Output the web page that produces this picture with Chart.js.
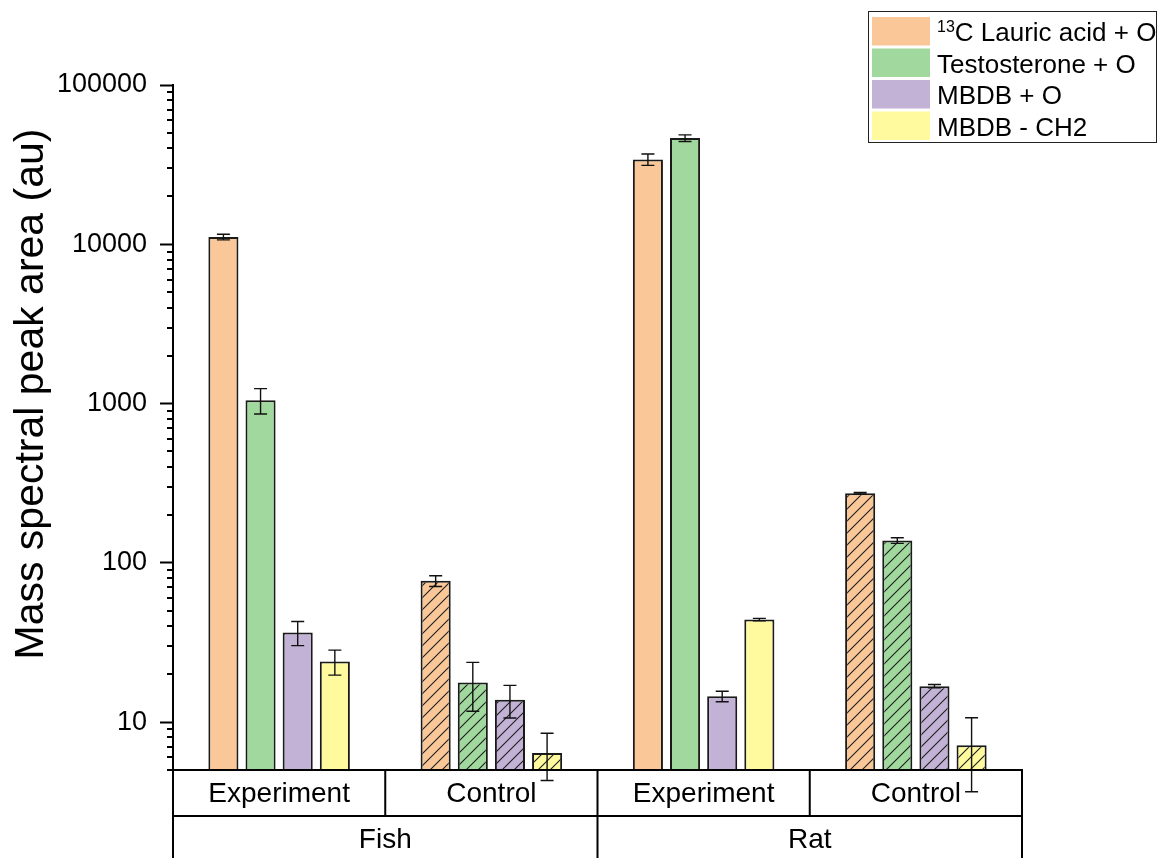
<!DOCTYPE html>
<html>
<head>
<meta charset="utf-8">
<script src="https://cdn.jsdelivr.net/npm/chart.js@4/dist/chart.umd.min.js"></script>
<style>
  html, body { margin: 0; padding: 0; background: #ffffff; }
  #wrap { width: 1159px; height: 858px; }
</style>
</head>
<body>
<div id="wrap"><canvas id="c" width="1159" height="858"></canvas></div>
<script>
// Group labels (first row under the axis) and species (second row)
const groups = ['Experiment', 'Control', 'Experiment', 'Control'];
const species = ['Fish', 'Rat'];
const hatched = [false, true, false, true];

// Series names; the isotope mass is drawn as a superscript in the legend
const seriesSup = ['13', '', '', ''];
const seriesNames = ['C Lauric acid + O', 'Testosterone + O', 'MBDB + O', 'MBDB - CH2'];
const seriesColors = ['#FAC898', '#A0D89E', '#C2B2D6', '#FFFA9E'];

// Peak areas and their error values, one entry per group
const lauricAcid    = [11100, 77, 34100, 273];
const lauricAcidErr = [450, 6, 2800, 3];
const testosterone    = [1050, 17.7, 46400, 138];
const testosteroneErr = [190, 6, 2200, 5.5];
const mbdbO    = [36.5, 13.8, 14.5, 16.8];
const mbdbOErr = [6.3, 3.2, 1.1, 0.4];
const mbdbCH2    = [24.0, 6.4, 44, 7.15];
const mbdbCH2Err = [4.3, 2.1, 0.8, 3.5];

const yTicks = [10, 100, 1000, 10000, 100000];
const yMin = 5, yMax = 100000;
const yTitle = 'Mass spectral peak area (au)';

const FONT = "'Liberation Sans', Arial, sans-serif";

function hatch(color) {
  const s = 12;
  const c = document.createElement('canvas');
  c.width = s; c.height = s;
  const g = c.getContext('2d');
  g.fillStyle = color;
  g.fillRect(0, 0, s, s);
  g.strokeStyle = '#1e1e1e';
  g.lineWidth = 1.1;
  g.beginPath();
  g.moveTo(-1, s + 1); g.lineTo(s + 1, -1);
  g.moveTo(-1, 1); g.lineTo(1, -1);
  g.moveTo(s - 1, s + 1); g.lineTo(s + 1, s - 1);
  g.stroke();
  return g.createPattern(c, 'repeat');
}

const values = [lauricAcid, testosterone, mbdbO, mbdbCH2];
const errors = [lauricAcidErr, testosteroneErr, mbdbOErr, mbdbCH2Err];

const datasets = values.map((vals, i) => {
  const pat = hatch(seriesColors[i]);
  return {
    label: seriesSup[i] + seriesNames[i],
    data: vals,
    errors: errors[i],
    backgroundColor: hatched.map(h => h ? pat : seriesColors[i]),
    borderColor: '#1a1a1a',
    borderWidth: 2,
    categoryPercentage: 0.7,
    barPercentage: 0.81
  };
});

// Error bars, minor y ticks, y title, two-row category table and legend
const decor = {
  id: 'decor',
  afterDatasetsDraw(chart) {
    const ctx = chart.ctx;
    const y = chart.scales.y;
    ctx.save();
    ctx.strokeStyle = '#111';
    ctx.lineWidth = 1.4;
    chart.data.datasets.forEach((ds, di) => {
      const meta = chart.getDatasetMeta(di);
      meta.data.forEach((bar, k) => {
        const v = ds.data[k], e = ds.errors[k];
        const yt = y.getPixelForValue(v + e);
        const yb = y.getPixelForValue(Math.max(v - e, 0.01));
        const x = bar.x, cap = 6.5;
        ctx.beginPath();
        ctx.moveTo(x, yt); ctx.lineTo(x, yb);
        ctx.moveTo(x - cap, yt); ctx.lineTo(x + cap, yt);
        ctx.moveTo(x - cap, yb); ctx.lineTo(x + cap, yb);
        ctx.stroke();
      });
    });
    ctx.restore();
  },
  afterDraw(chart) {
    const ctx = chart.ctx;
    const a = chart.chartArea;
    const y = chart.scales.y;
    ctx.save();
    // minor ticks
    ctx.strokeStyle = '#000';
    ctx.lineWidth = 2;
    ctx.beginPath();
    for (let d = 1; d <= 10000; d *= 10) {
      for (let m = 2; m <= 9; m++) {
        const v = m * d;
        if (v < yMin || v > yMax) continue;
        const py = Math.round(y.getPixelForValue(v));
        ctx.moveTo(a.left - 6, py); ctx.lineTo(a.left, py);
      }
    }
    ctx.stroke();

    // y title
    ctx.save();
    ctx.translate(43, 394);
    ctx.rotate(-Math.PI / 2);
    ctx.fillStyle = '#000';
    ctx.font = '41px ' + FONT;
    ctx.textAlign = 'center';
    ctx.textBaseline = 'alphabetic';
    ctx.fillText(yTitle, 0, 0);
    ctx.restore();

    // category table
    const n = groups.length;
    const w = (a.right - a.left) / n;
    const row1 = a.bottom + 46;
    const bottom = chart.height + 2;
    ctx.strokeStyle = '#000';
    ctx.lineWidth = 2;
    ctx.beginPath();
    ctx.moveTo(a.left - 1, a.bottom); ctx.lineTo(a.right + 1, a.bottom);
    ctx.moveTo(a.left, row1); ctx.lineTo(a.right, row1);
    for (let i = 0; i <= n; i++) {
      const x = a.left + i * w;
      if (i % 2 === 0) { ctx.moveTo(x, a.bottom); ctx.lineTo(x, bottom); }
      else { ctx.moveTo(x, a.bottom); ctx.lineTo(x, row1); }
    }
    ctx.stroke();
    ctx.fillStyle = '#000';
    ctx.font = '28px ' + FONT;
    ctx.textAlign = 'center';
    ctx.textBaseline = 'middle';
    groups.forEach((g, i) => ctx.fillText(g, a.left + (i + 0.5) * w, a.bottom + 24));
    species.forEach((s, i) => ctx.fillText(s, a.left + (2 * i + 1) * w, row1 + 24));

    // legend
    const lx = 868, ly = 11, lw = 289, lh = 132;
    ctx.fillStyle = '#fff';
    ctx.fillRect(lx, ly, lw, lh);
    ctx.strokeStyle = '#222';
    ctx.lineWidth = 1;
    ctx.strokeRect(lx + 0.5, ly + 0.5, lw - 1, lh - 1);
    ctx.textAlign = 'left';
    ctx.textBaseline = 'alphabetic';
    seriesNames.forEach((name, i) => {
      const top = 17 + i * 31.5;
      ctx.fillStyle = seriesColors[i];
      ctx.fillRect(872, top, 58, 28.5);
      ctx.fillStyle = '#000';
      let x = 937;
      const base = top + 24;
      if (seriesSup[i]) {
        ctx.font = '16px ' + FONT;
        ctx.fillText(seriesSup[i], x, base - 9);
        x += ctx.measureText(seriesSup[i]).width;
      }
      ctx.font = '26px ' + FONT;
      ctx.fillText(name, x, base);
    });
    ctx.restore();
  }
};

new Chart(document.getElementById('c'), {
  type: 'bar',
  data: { labels: groups, datasets },
  options: {
    responsive: false,
    animation: false,
    layout: { padding: { top: 85, right: 137, bottom: 88, left: 0 } },
    plugins: { legend: { display: false }, tooltip: { enabled: false } },
    scales: {
      x: { display: false },
      y: {
        type: 'logarithmic',
        min: yMin,
        max: yMax,
        afterBuildTicks(s) { s.ticks = yTicks.map(v => ({ value: v, major: true })); },
        afterFit(s) { s.width = 173; },
        border: { display: true, color: '#000', width: 2 },
        grid: { display: true, drawOnChartArea: false, drawTicks: true, tickLength: 13, tickColor: '#000', tickWidth: 2 },
        ticks: {
          padding: 13,
          color: '#000',
          font: { family: FONT, size: 27 },
          callback: v => String(v)
        }
      }
    }
  },
  plugins: [decor]
});
</script>
</body>
</html>
